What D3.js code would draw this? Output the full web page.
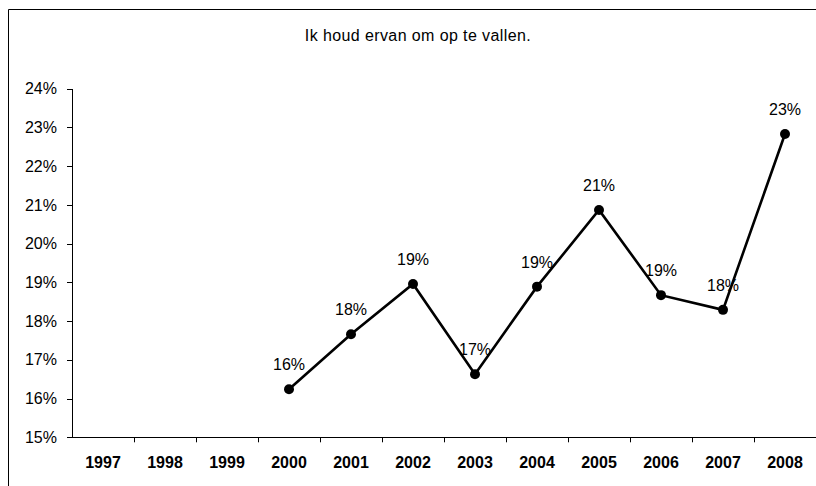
<!DOCTYPE html>
<html>
<head>
<meta charset="utf-8">
<script src="https://cdn.jsdelivr.net/npm/d3@7"></script>
<style>
  html, body { margin: 0; padding: 0; background: #fff; }
  svg { display: block; font-family: "Liberation Sans", Arial, sans-serif; }
</style>
</head>
<body>
<svg id="chart" width="816" height="486"></svg>
<script>
// Survey results per year: share agreeing with the statement
const years = ["1997", "1998", "1999", "2000", "2001", "2002", "2003", "2004", "2005", "2006", "2007", "2008"];
const shares = [null, null, null, 0.1624, 0.1766, 0.1896, 0.1663, 0.1889, 0.2087, 0.1867, 0.1829, 0.2283];
const yTicks = [0.15, 0.16, 0.17, 0.18, 0.19, 0.20, 0.21, 0.22, 0.23, 0.24];
const title = "Ik houd ervan om op te vallen.";

const svg = d3.select("#chart");
const W = 816, H = 486;
const plot = { left: 72, right: 816, top: 88.7, bottom: 437.3 };

// Outer frame (open to the right and bottom)
svg.append("path")
  .attr("d", `M8.5,${H} L8.5,9.5 L${W},9.5`)
  .attr("fill", "none").attr("stroke", "#000").attr("stroke-width", 1);

svg.append("text")
  .attr("x", 418).attr("y", 41)
  .attr("text-anchor", "middle")
  .attr("font-size", 16)
  .attr("letter-spacing", 0.4)
  .attr("fill", "#000")
  .text(title);

const x = d3.scaleBand().domain(years).range([plot.left, plot.right]).padding(0);
const y = d3.scaleLinear().domain([0.15, 0.24]).range([plot.bottom, plot.top]);

// Y axis
const yAxis = svg.append("g")
  .attr("transform", `translate(${plot.left},0)`)
  .call(d3.axisLeft(y).tickValues(yTicks).tickFormat(d3.format(".0%"))
    .tickSize(5).tickSizeOuter(0).tickPadding(10));
yAxis.selectAll("path, line").attr("stroke", "#000").attr("shape-rendering", "crispEdges");
yAxis.selectAll("text").attr("font-size", 16).attr("fill", "#000")
  .attr("font-family", "'Liberation Sans', Arial, sans-serif");

// X axis: labels at band centres, tick marks at band boundaries
const xAxis = svg.append("g")
  .attr("transform", `translate(0,${plot.bottom})`)
  .call(d3.axisBottom(x).tickSize(0).tickSizeOuter(0).tickPadding(0));
xAxis.select(".domain").attr("stroke", "#000").attr("shape-rendering", "crispEdges");
xAxis.selectAll("text")
  .attr("y", 31).attr("dy", 0)
  .attr("font-size", 16).attr("font-weight", "bold").attr("fill", "#000")
  .attr("font-family", "'Liberation Sans', Arial, sans-serif");
xAxis.selectAll(".boundary")
  .data(years.slice(1))
  .join("line")
  .attr("class", "boundary")
  .attr("x1", d => Math.round(x(d)) + 0.5).attr("x2", d => Math.round(x(d)) + 0.5)
  .attr("y1", 0).attr("y2", 5)
  .attr("stroke", "#000");

// Series
const pts = years.map((yr, i) => ({ yr, v: shares[i] })).filter(d => d.v != null);
const cx = d => x(d.yr) + x.bandwidth() / 2;

svg.append("path")
  .datum(pts)
  .attr("fill", "none")
  .attr("stroke", "#000")
  .attr("stroke-width", 2.6)
  .attr("stroke-linejoin", "miter")
  .attr("d", d3.line().x(cx).y(d => y(d.v)));

svg.selectAll(".dot")
  .data(pts)
  .join("circle")
  .attr("class", "dot")
  .attr("cx", cx).attr("cy", d => y(d.v))
  .attr("r", 5).attr("fill", "#000");

svg.selectAll(".lbl")
  .data(pts)
  .join("text")
  .attr("class", "lbl")
  .attr("x", cx).attr("y", d => y(d.v) - 19)
  .attr("text-anchor", "middle")
  .attr("font-size", 16)
  .attr("fill", "#000")
  .text(d => d3.format(".0%")(d.v));
</script>
</body>
</html>
